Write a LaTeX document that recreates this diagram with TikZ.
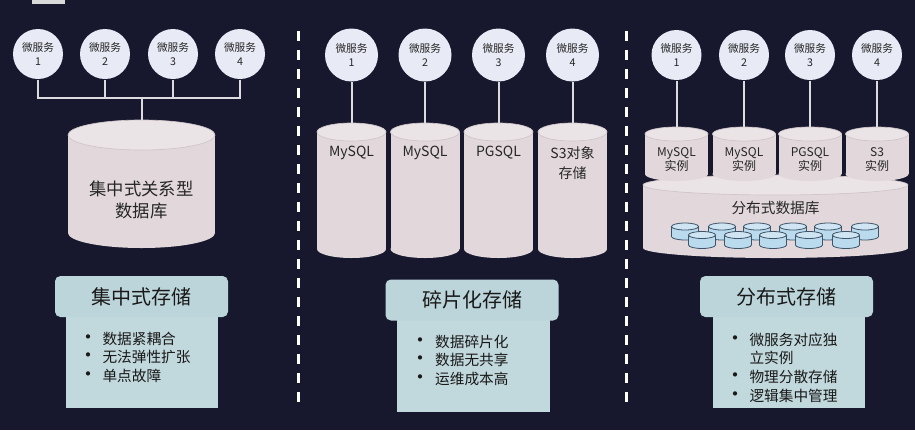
\documentclass[tikz,border=0pt]{standalone}
\usepackage{fontspec}
\setmainfont{Noto Sans CJK SC}

\definecolor{bgnavy}{HTML}{17182E}
\definecolor{svcfill}{HTML}{E8EAF5}
\definecolor{drumfill}{HTML}{E2D8DB}
\definecolor{drumlid}{HTML}{EBE4E6}
\definecolor{drumedge}{HTML}{CFC4C8}
\definecolor{titlefill}{HTML}{BCD5DA}
\definecolor{listfill}{HTML}{C1D8DC}
\definecolor{wirecol}{HTML}{DCDCE0}
\definecolor{shardfill}{HTML}{BADAEE}
\definecolor{shardedge}{HTML}{3E5468}

\tikzset{every picture/.style={line width=0.75pt}}
\tikzset{
  svc/.style={circle, fill=svcfill, minimum size=37.5pt, inner sep=0pt, align=center, text=black!85, font=\fontsize{8}{11}\selectfont},
  wire/.style={draw=wirecol, line width=1.5pt},
  drumtext/.style={align=center, text=black!85, inner sep=0pt},
  titlebox/.style={rounded corners=4pt, fill=titlefill, minimum width=129.75pt, minimum height=30.75pt, inner sep=0pt, text=black!90, font=\fontsize{15}{18}\selectfont},
  listbox/.style={fill=listfill, minimum width=114pt, minimum height=68.25pt, inner sep=0pt},
  listtext/.style={align=left, inner sep=0pt, anchor=north west, text=black!90, font=\fontsize{11}{14}\selectfont},
  divider/.style={draw=white, line width=2.25pt, dash pattern=on 7.5pt off 6.75pt},
}

% name, cx, lid y, half width, bottom y, y radius
\newcommand{\dbdrum}[6]{%
  \fill[drumfill] (#2-#4,#3) rectangle (#2+#4,#5);
  \fill[drumfill] (#2,#5) ellipse [x radius=#4, y radius=#6];
  \filldraw[fill=drumlid, draw=drumedge, line width=0.5pt] (#2,#3) ellipse [x radius=#4, y radius=#6];
  \coordinate (#1) at (#2,#3-#6);
}
% small shard: cx, lid y
\newcommand{\shard}[2]{%
  \filldraw[fill=shardfill, draw=shardedge, line width=0.6pt] (#1,#2+10) ellipse [x radius=13.5, y radius=3.5];
  \fill[shardfill] (#1-13.5,#2) rectangle (#1+13.5,#2+10);
  \draw[shardedge, line width=0.6pt] (#1-13.5,#2) -- (#1-13.5,#2+10) (#1+13.5,#2) -- (#1+13.5,#2+10);
  \filldraw[fill=shardfill!70!white, draw=shardedge, line width=0.6pt] (#1,#2) ellipse [x radius=13.5, y radius=3.5];
}
% list bullet
\newcommand{\blt}{\makebox[6pt]{\fontsize{15}{14}\selectfont\textbullet}}

\begin{document}
\begin{tikzpicture}[x=0.75pt,y=0.75pt,yscale=-1,xscale=1]
\fill[bgnavy] (0,0) rectangle (915,430);
\useasboundingbox (0,0) rectangle (915,430);
\fill[black!15] (32,0) rectangle (65,4);

%Dividers
\draw[divider] (298,31) -- (298,408);
\draw[divider] (626,31) -- (626,407);

%% centralised
\node[svc] (a1) at (38,54) {微服务\\1};
\node[svc] (a2) at (105,54) {微服务\\2};
\node[svc] (a3) at (173,54) {微服务\\3};
\node[svc] (a4) at (240,54) {微服务\\4};
\dbdrum{db1}{141.5}{135}{73.5}{233}{15}
\coordinate (j1) at (141.5,98);
\draw[wire] (a1.south) |- (j1);
\draw[wire] (a2.south) |- (j1);
\draw[wire] (a3.south) |- (j1);
\draw[wire] (a4.south) |- (j1);
\draw[wire] (j1) -- (db1);
% Text Node
\node[drumtext, font=\fontsize{13}{16}\selectfont] (centrallbl) at (141.5,200) {集中式关系型\\数据库};
\node[listbox] (p1) at (142,362.5) {};
\node[titlebox] (t1) at (141.5,296.5) {集中式存储};
\node[listtext] (q1) at (84,330.5) {\begin{tabular}{@{}l@{\hspace{7.5pt}}l@{}}\blt & 数据紧耦合\\ \blt & 无法弹性扩张\\ \blt & 单点故障\end{tabular}};

%% fragmented
\node[svc, minimum size=39.75pt] (b1) at (351.5,55) {微服务\\1};
\node[svc, minimum size=39.75pt] (b2) at (425,55) {微服务\\2};
\node[svc, minimum size=39.75pt] (b3) at (498.5,55) {微服务\\3};
\node[svc, minimum size=39.75pt] (b4) at (572.5,55) {微服务\\4};
\dbdrum{db21}{351.5}{132}{34.5}{249}{9}
\dbdrum{db22}{425}{132}{34.5}{249}{9}
\dbdrum{db23}{498.5}{132}{34.5}{249}{9}
\dbdrum{db24}{572.5}{132}{34.5}{249}{9}
\draw[wire] (b1.south) -- (db21);
\draw[wire] (b2.south) -- (db22);
\draw[wire] (b3.south) -- (db23);
\draw[wire] (b4.south) -- (db24);
% Text Node
\node[drumtext, font=\fontsize{10.5}{15}\selectfont] (l1) at (351.5,153) {MySQL};
\node[drumtext, font=\fontsize{10.5}{15}\selectfont] (l2) at (425,153) {MySQL};
\node[drumtext, font=\fontsize{10.5}{15}\selectfont] (l3) at (498.5,153) {PGSQL};
\node[drumtext, font=\fontsize{10.5}{15}\selectfont] (l4) at (572.5,163) {S3对象\\存储};
\node[listbox, minimum width=114.75pt, minimum height=69pt] (p2) at (473.5,366) {};
\node[titlebox] (t2) at (472,300) {碎片化存储};
\node[listtext] (q2) at (416,333.5) {\begin{tabular}{@{}l@{\hspace{8pt}}l@{}}\blt & 数据碎片化\\ \blt & 数据无共享\\ \blt & 运维成本高\end{tabular}};

%% distributed
\node[svc] (c1) at (676.5,55) {微服务\\1};
\node[svc] (c2) at (744,55) {微服务\\2};
\node[svc] (c3) at (810,55) {微服务\\3};
\node[svc] (c4) at (877,55) {微服务\\4};
\dbdrum{dist}{775.5}{185}{132.5}{248}{10}
\dbdrum{i1}{676.5}{134}{31.5}{174}{7}
\dbdrum{i2}{744}{134}{31.5}{174}{7}
\dbdrum{i3}{810}{134}{31.5}{174}{7}
\dbdrum{i4}{877}{134}{31.5}{174}{7}
\draw[wire] (c1.south) -- (i1);
\draw[wire] (c2.south) -- (i2);
\draw[wire] (c3.south) -- (i3);
\draw[wire] (c4.south) -- (i4);
%Shards
\shard{685}{226.5}
\shard{722}{226.5}
\shard{757}{226.5}
\shard{793}{226.5}
\shard{828}{226.5}
\shard{865}{226.5}
\shard{702}{235}
\shard{738}{235}
\shard{773}{235}
\shard{809}{235}
\shard{846}{235}
% Text Node
\node[drumtext, font=\fontsize{9}{10.5}\selectfont] (k1) at (676.5,160) {MySQL\\实例};
\node[drumtext, font=\fontsize{9}{10.5}\selectfont] (k2) at (744,160) {MySQL\\实例};
\node[drumtext, font=\fontsize{9}{10.5}\selectfont] (k3) at (810,160) {PGSQL\\实例};
\node[drumtext, font=\fontsize{9}{10.5}\selectfont] (k4) at (877,160) {S3\\实例};
\node[drumtext, font=\fontsize{11}{14}\selectfont] (distlbl) at (775.5,208) {分布式数据库};
\node[listbox] (p3) at (788.5,362.5) {};
\node[titlebox] (t3) at (786.5,296.5) {分布式存储};
\node[listtext] (q3) at (731,331.5) {\begin{tabular}{@{}l@{\hspace{7.5pt}}l@{}}\blt & 微服务对应独\\ & 立实例\\ \blt & 物理分散存储\\ \blt & 逻辑集中管理\end{tabular}};

\end{tikzpicture}
\end{document}
